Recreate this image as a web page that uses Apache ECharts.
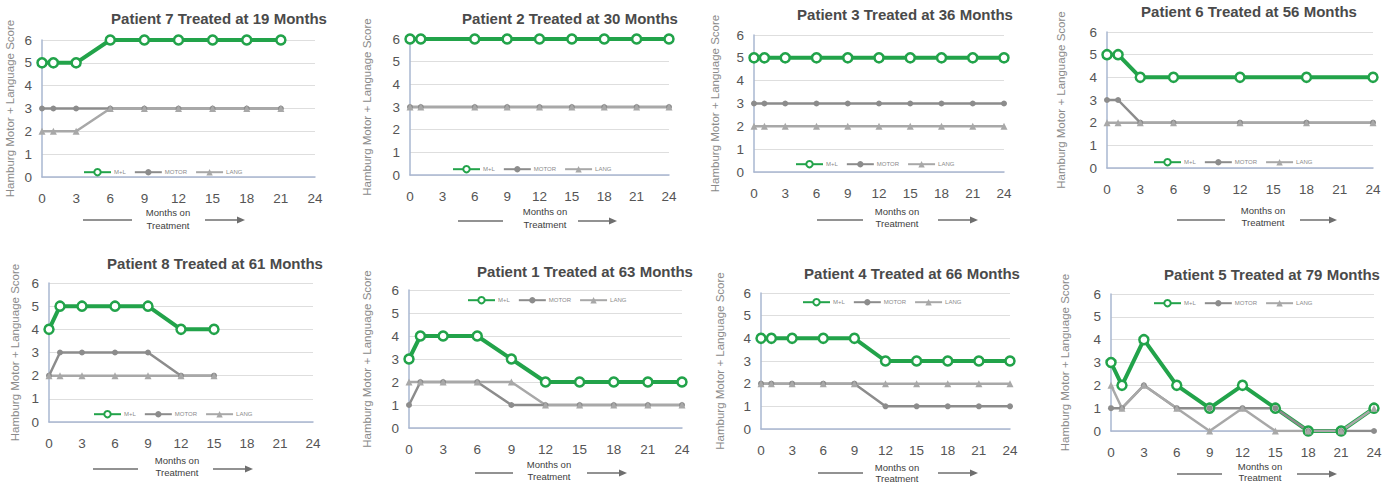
<!DOCTYPE html>
<html>
<head>
<meta charset="utf-8">
<script src="https://cdn.jsdelivr.net/npm/echarts@6/dist/echarts.min.js"></script>
<style>
  html, body { margin: 0; padding: 0; background: #ffffff; }
  #chart { width: 1399px; height: 485px; }
</style>
</head>
<body>
<div id="chart"></div>
<script>
// Hamburg Motor + Language scores over months on treatment, one panel per patient.
const seriesNames = ['M+L', 'MOTOR', 'LANG'];
const monthTicks = [0, 3, 6, 9, 12, 15, 18, 21, 24];

const p7Months = [0, 1, 3, 6, 9, 12, 15, 18, 21];
const p7ML     = [5, 5, 5, 6, 6, 6, 6, 6, 6];
const p7Motor  = [3, 3, 3, 3, 3, 3, 3, 3, 3];
const p7Lang   = [2, 2, 2, 3, 3, 3, 3, 3, 3];

const p2Months = [0, 1, 6, 9, 12, 15, 18, 21, 24];
const p2ML     = [6, 6, 6, 6, 6, 6, 6, 6, 6];
const p2Motor  = [3, 3, 3, 3, 3, 3, 3, 3, 3];
const p2Lang   = [3, 3, 3, 3, 3, 3, 3, 3, 3];

const p3Months = [0, 1, 3, 6, 9, 12, 15, 18, 21, 24];
const p3ML     = [5, 5, 5, 5, 5, 5, 5, 5, 5, 5];
const p3Motor  = [3, 3, 3, 3, 3, 3, 3, 3, 3, 3];
const p3Lang   = [2, 2, 2, 2, 2, 2, 2, 2, 2, 2];

const p6Months = [0, 1, 3, 6, 12, 18, 24];
const p6ML     = [5, 5, 4, 4, 4, 4, 4];
const p6Motor  = [3, 3, 2, 2, 2, 2, 2];
const p6Lang   = [2, 2, 2, 2, 2, 2, 2];

const p8Months = [0, 1, 3, 6, 9, 12, 15];
const p8ML     = [4, 5, 5, 5, 5, 4, 4];
const p8Motor  = [2, 3, 3, 3, 3, 2, 2];
const p8Lang   = [2, 2, 2, 2, 2, 2, 2];

const p1Months = [0, 1, 3, 6, 9, 12, 15, 18, 21, 24];
const p1ML     = [3, 4, 4, 4, 3, 2, 2, 2, 2, 2];
const p1Motor  = [1, 2, 2, 2, 1, 1, 1, 1, 1, 1];
const p1Lang   = [2, 2, 2, 2, 2, 1, 1, 1, 1, 1];

const p4Months = [0, 1, 3, 6, 9, 12, 15, 18, 21, 24];
const p4ML     = [4, 4, 4, 4, 4, 3, 3, 3, 3, 3];
const p4Motor  = [2, 2, 2, 2, 2, 1, 1, 1, 1, 1];
const p4Lang   = [2, 2, 2, 2, 2, 2, 2, 2, 2, 2];

const p5Months = [0, 1, 3, 6, 9, 12, 15, 18, 21, 24];
const p5ML     = [3, 2, 4, 2, 1, 2, 1, 0, 0, 1];
const p5Motor  = [1, 1, 2, 1, 1, 1, 1, 0, 0, 0];
const p5Lang   = [2, 1, 2, 1, 0, 1, 0, 0, 0, 1];

const patients = [
  { title: 'Patient 7 Treated at 19 Months', months: p7Months, ml: p7ML, motor: p7Motor, lang: p7Lang },
  { title: 'Patient 2 Treated at 30 Months', months: p2Months, ml: p2ML, motor: p2Motor, lang: p2Lang },
  { title: 'Patient 3 Treated at 36 Months', months: p3Months, ml: p3ML, motor: p3Motor, lang: p3Lang },
  { title: 'Patient 6 Treated at 56 Months', months: p6Months, ml: p6ML, motor: p6Motor, lang: p6Lang },
  { title: 'Patient 8 Treated at 61 Months', months: p8Months, ml: p8ML, motor: p8Motor, lang: p8Lang },
  { title: 'Patient 1 Treated at 63 Months', months: p1Months, ml: p1ML, motor: p1Motor, lang: p1Lang },
  { title: 'Patient 4 Treated at 66 Months', months: p4Months, ml: p4ML, motor: p4Motor, lang: p4Lang },
  { title: 'Patient 5 Treated at 79 Months', months: p5Months, ml: p5ML, motor: p5Motor, lang: p5Lang }
];

// Panel placement: plot box, title centre, y-name gap, legend corner, footer (text centre, text rows, arrow row, left bar, right arrow)
const layout = [
  { g: [42, 40, 273, 137],   t: [214, 6],   ng: 26, lg: [83, 168],   f: { cx: 168,  y1: 212, y2: 225, ay: 220, l: [83, 132],   r: [205, 245] } },
  { g: [410, 39, 259, 136],  t: [565, 6],   ng: 37, lg: [452, 165],  f: { cx: 545,  y1: 211, y2: 224, ay: 221, l: [458, 503],  r: [578, 617] } },
  { g: [754, 35, 250, 137],  t: [900, 2],   ng: 33, lg: [795, 160],  f: { cx: 897,  y1: 211, y2: 223, ay: 220, l: [817, 863],  r: [938, 978] } },
  { g: [1107, 32, 266, 136], t: [1244, -1], ng: 40, lg: [1153, 158], f: { cx: 1263, y1: 210, y2: 222, ay: 220, l: [1177, 1225], r: [1300, 1337] } },
  { g: [49, 283, 264, 139],  t: [210, 251], ng: 28, lg: [93, 410],   f: { cx: 177,  y1: 460, y2: 472, ay: 469, l: [93, 138],   r: [213, 253] } },
  { g: [409, 290, 273, 138], t: [580, 259], ng: 36, lg: [467, 296],  f: { cx: 549,  y1: 464, y2: 476, ay: 473, l: [475, 513],  r: [587, 627] } },
  { g: [761, 293, 249, 136], t: [907, 261], ng: 35, lg: [802, 298],  f: { cx: 897,  y1: 467, y2: 478, ay: 473, l: [818, 863],  r: [938, 978] } },
  { g: [1111, 294, 263, 137], t: [1267, 262], ng: 40, lg: [1153, 299], f: { cx: 1260, y1: 466, y2: 477, ay: 474, l: [1177, 1222], r: [1297, 1337] } }
];

const GREEN = '#22a34a';
const MOTOR_GRAY = '#8c8c8c';
const LANG_GRAY = '#a8a8a8';
const AXIS_BLUE = '#a9b7d1';
const GRID_GRAY = '#dedede';
const FONT = 'Liberation Sans, Arial, sans-serif';

const pairs = (xs, ys) => xs.map((x, i) => [x, ys[i]]);

const option = {
  animation: false,
  backgroundColor: '#ffffff',
  textStyle: { fontFamily: FONT },
  title: [], grid: [], xAxis: [], yAxis: [], legend: [], series: [], graphic: []
};

patients.forEach((p, i) => {
  const L = layout[i];
  option.title.push({
    text: p.title, left: L.t[0], top: L.t[1], textAlign: 'center',
    textStyle: { fontSize: 15, fontWeight: 'bold', color: '#4a4a4a', fontFamily: FONT }
  });
  option.grid.push({ left: L.g[0], top: L.g[1], width: L.g[2], height: L.g[3], containLabel: false });
  option.xAxis.push({
    type: 'value', gridIndex: i, min: monthTicks[0], max: monthTicks[monthTicks.length - 1], interval: 3,
    axisLine: { show: true, lineStyle: { color: AXIS_BLUE, width: 1.5 } },
    axisTick: { show: false }, splitLine: { show: false },
    axisLabel: { fontSize: 13.5, color: '#555555', margin: 14, fontFamily: FONT }
  });
  option.yAxis.push({
    type: 'value', gridIndex: i, min: 0, max: 6, interval: 1,
    name: 'Hamburg Motor + Language Score', nameLocation: 'middle', nameRotate: 90, nameGap: L.ng,
    nameTextStyle: { fontSize: 11.5, color: '#8a8a8a', fontFamily: FONT },
    axisLine: { show: true, lineStyle: { color: AXIS_BLUE, width: 1.5 } },
    axisTick: { show: false },
    splitLine: { show: true, lineStyle: { color: GRID_GRAY, width: 1 } },
    axisLabel: { fontSize: 13.5, color: '#555555', margin: 10, fontFamily: FONT }
  });
  option.series.push({
    name: seriesNames[0], type: 'line', xAxisIndex: i, yAxisIndex: i,
    data: pairs(p.months, p.ml), symbol: 'circle', symbolSize: 9,
    lineStyle: { color: GREEN, width: 4 },
    itemStyle: { color: '#ffffff', borderColor: GREEN, borderWidth: 2.5 }
  });
  option.series.push({
    name: seriesNames[1], type: 'line', xAxisIndex: i, yAxisIndex: i,
    data: pairs(p.months, p.motor), symbol: 'circle', symbolSize: 6,
    lineStyle: { color: MOTOR_GRAY, width: 2.5 },
    itemStyle: { color: MOTOR_GRAY }
  });
  option.series.push({
    name: seriesNames[2], type: 'line', xAxisIndex: i, yAxisIndex: i,
    data: pairs(p.months, p.lang), symbol: 'triangle', symbolSize: 7,
    lineStyle: { color: LANG_GRAY, width: 2.5 },
    itemStyle: { color: LANG_GRAY }
  });
  option.legend.push({
    left: L.lg[0], top: L.lg[1], orient: 'horizontal', padding: 0,
    data: seriesNames, itemWidth: 27, itemHeight: 8, itemGap: 8, selectedMode: false,
    textStyle: { fontSize: 6, color: '#8a8a8a', width: 34, overflow: 'truncate', padding: [0, 0, 0, -2] }
  });

  const f = L.f;
  const footText = (txt, y) => ({
    type: 'text', x: f.cx, y: y,
    style: { text: txt, fill: '#404040', font: '9.5px ' + FONT, align: 'center', verticalAlign: 'middle', textAlign: 'center', textVerticalAlign: 'middle' }
  });
  option.graphic.push(
    footText('Months on', f.y1),
    footText('Treatment', f.y2),
    { type: 'line', shape: { x1: f.l[0], y1: f.ay, x2: f.l[1], y2: f.ay }, style: { stroke: '#6e6e6e', lineWidth: 1.5 } },
    { type: 'line', shape: { x1: f.r[0], y1: f.ay, x2: f.r[1] - 6, y2: f.ay }, style: { stroke: '#6e6e6e', lineWidth: 1.5 } },
    { type: 'polygon', shape: { points: [[f.r[1] - 8, f.ay - 3.5], [f.r[1], f.ay], [f.r[1] - 8, f.ay + 3.5]] }, style: { fill: '#6e6e6e' } }
  );
});

const chart = echarts.init(document.getElementById('chart'), null, { renderer: 'svg' });
chart.setOption(option);
</script>
</body>
</html>
